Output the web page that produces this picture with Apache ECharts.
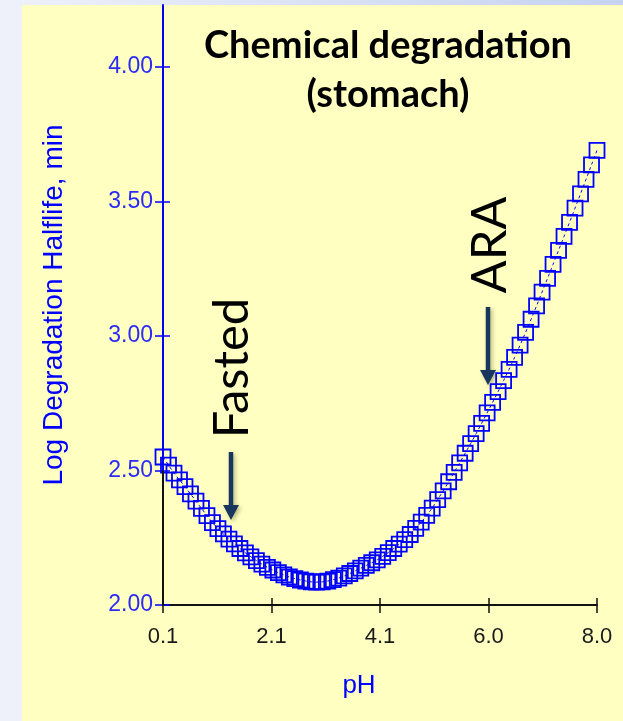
<!DOCTYPE html>
<html><head><meta charset="utf-8">
<script src="https://cdn.jsdelivr.net/npm/echarts@6/dist/echarts.min.js"></script>
<style>html,body{margin:0;padding:0;width:623px;height:721px;overflow:hidden;background:#F1F3FA}
#c{width:623px;height:721px}</style></head><body><div id="c"></div>
<script>
// pH grid (x values)
const phValues = [0.1,0.2,0.3,0.4,0.5,0.6,0.7,0.8,0.9,1.0,
  1.1,1.2,1.3,1.4,1.5,1.6,1.7,1.8,1.9,2.0,
  2.1,2.2,2.3,2.4,2.5,2.6,2.7,2.8,2.9,3.0,
  3.1,3.2,3.3,3.4,3.5,3.6,3.7,3.8,3.9,4.0,
  4.1,4.2,4.3,4.4,4.5,4.6,4.7,4.8,4.9,5.0,
  5.1,5.2,5.3,5.4,5.5,5.6,5.7,5.8,5.9,6.0,
  6.1,6.2,6.3,6.4,6.5,6.6,6.7,6.8,6.9,7.0,
  7.1,7.2,7.3,7.4,7.5,7.6,7.7,7.8,7.9,8.0];
// Log degradation half-life, min
const logHalfLife = [2.55,2.52,2.49,2.465,2.44,2.413,2.386,2.359,2.332,2.306,
  2.284,2.264,2.245,2.227,2.21,2.194,2.179,2.165,2.152,2.14,
  2.13,2.12,2.112,2.104,2.098,2.093,2.089,2.086,2.085,2.086,
  2.089,2.094,2.1,2.108,2.117,2.127,2.137,2.147,2.157,2.168,
  2.181,2.195,2.21,2.226,2.243,2.262,2.285,2.308,2.333,2.36,
  2.392,2.424,2.458,2.493,2.528,2.564,2.6,2.637,2.675,2.714,
  2.753,2.793,2.834,2.876,2.92,2.966,3.013,3.062,3.112,3.163,
  3.214,3.266,3.318,3.37,3.422,3.475,3.528,3.582,3.636,3.69];
const xTickPos = [0.1, 2.075, 4.05, 6.025, 8.0];
const xTickLabels = ['0.1','2.1','4.1','6.0','8.0'];
const yTickValues = [2.0, 2.5, 3.0, 3.5, 4.0];
const yTickLabels = ['2.00','2.50','3.00','3.50','4.00'];
const xRange = [0.1, 8.0];
const yRange = [2.0, 4.23];
const titleText = 'Chemical degradation\n(stomach)';
const xName = 'pH';
const yName = 'Log Degradation Halflife, min';
const noteFasted = 'Fasted';
const noteARA = 'ARA';

const BLUE = '#0000FF';
const LABEL_BLUE = '#2B2BF5';
const NAVY = '#17375E';

function findLabel(v, pos, labels){
  for (let i=0;i<pos.length;i++){ if (Math.abs(pos[i]-v) < 1e-6) return labels[i]; }
  return '';
}

const chart = echarts.init(document.getElementById('c'), null, {renderer:'canvas'});
const arrowShadow = {shadowBlur:4, shadowColor:'rgba(60,60,0,0.35)', shadowOffsetX:2, shadowOffsetY:2};
function arrow(x, y1, y2){
  return {type:'group', children:[
    {type:'line', shape:{x1:x, y1:y1, x2:x, y2:y2-12}, style:Object.assign({stroke:NAVY, lineWidth:4.5}, arrowShadow)},
    {type:'polygon', shape:{points:[[x-8,y2-15],[x+8,y2-15],[x,y2]]}, style:Object.assign({fill:NAVY}, arrowShadow)}
  ]};
}
const option = {
  backgroundColor:'#FFFFC2',
  animation:false,
  title:{text:titleText, left:383, top:16, textAlign:'center',
    textStyle:{fontFamily:'Lato', fontWeight:'bold', fontSize:38, lineHeight:49, color:'#000'}},
  grid:{left:163, right:26, top:5, bottom:116, containLabel:false},
  xAxis:[{type:'value', min:xRange[0], max:xRange[1], position:'bottom',
      name:xName, nameLocation:'middle', nameGap:68,
      nameTextStyle:{color:BLUE, fontFamily:'Liberation Sans', fontSize:26, padding:[0,42,0,0]},
      axisLine:{show:true, onZero:false, lineStyle:{color:'#111', width:2}},
      axisTick:{show:true, inside:false, length:8, customValues:xTickPos, lineStyle:{color:'#111', width:1.5}},
      axisLabel:{show:true, customValues:xTickPos, margin:21, color:'#1a1a1a', fontFamily:'Liberation Sans', fontSize:22,
        formatter:(v)=>findLabel(v, xTickPos, xTickLabels)},
      splitLine:{show:false}},
    {type:'value', min:xRange[0], max:xRange[1], position:'bottom',
      axisLine:{show:false, onZero:false}, axisLabel:{show:false}, splitLine:{show:false},
      axisTick:{show:true, inside:true, length:7, customValues:xTickPos, lineStyle:{color:'#111', width:1.5}}}],
  yAxis:[{type:'value', min:yRange[0], max:yRange[1], position:'left',
      name:yName, nameLocation:'middle', nameGap:95, nameRotate:90,
      nameTextStyle:{color:BLUE, fontFamily:'Liberation Sans', fontSize:28},
      axisLine:{show:true, onZero:false, lineStyle:{color:BLUE, width:2}},
      axisTick:{show:true, inside:false, length:8, customValues:yTickValues, lineStyle:{color:BLUE, width:1.5}},
      axisLabel:{show:true, customValues:yTickValues, margin:10, color:LABEL_BLUE, fontFamily:'Liberation Sans', fontSize:23,
        formatter:(v)=>findLabel(v, yTickValues, yTickLabels)},
      splitLine:{show:false}},
    {type:'value', min:yRange[0], max:yRange[1], position:'left',
      axisLine:{show:false, onZero:false}, axisLabel:{show:false}, splitLine:{show:false},
      axisTick:{show:true, inside:true, length:7, customValues:yTickValues, lineStyle:{color:BLUE, width:1.5}}}],
  series:[{
    type:'line', xAxisIndex:0, yAxisIndex:0,
    data: phValues.map((x,i)=>[x, logHalfLife[i]]),
    symbol:'rect', symbolSize:15, showAllSymbol:true,
    lineStyle:{color:BLUE, width:1, type:[3,3]},
    itemStyle:{color:'rgba(0,0,0,0)', borderColor:BLUE, borderWidth:1.8},
    emphasis:{disabled:true}, silent:true,
    markLine:{silent:true, symbol:'none', label:{show:false},
      lineStyle:{color:'#111', width:2, type:'solid'},
      data:[[{coord:[xRange[0], yRange[0]]},{coord:[xRange[0], yTickValues[1]]}]]}
  }],
  graphic:[
    {type:'rect', shape:{x:0,y:0,width:22,height:721}, style:{fill:'#EEF1F9'}, silent:true},
    {type:'rect', shape:{x:0,y:0,width:623,height:5}, silent:true,
      style:{fill:new echarts.graphic.LinearGradient(0,0,1,0,[{offset:0,color:'#EEF1F9'},{offset:1,color:'#C5D3F1'}])}},
    {type:'text', x:232, y:368, rotation:Math.PI/2, silent:true,
      style:{text:noteFasted, fill:'#000', font:'49px Lato', align:'center', verticalAlign:'middle'}},
    {type:'text', x:490, y:245, rotation:Math.PI/2, silent:true,
      style:{text:noteARA, fill:'#000', font:'49px Lato', align:'center', verticalAlign:'middle'}},
    Object.assign(arrow(231, 452, 520), {silent:true}),
    Object.assign(arrow(488, 307, 385), {silent:true})
  ]
};
chart.setOption(option);
</script></body></html>
